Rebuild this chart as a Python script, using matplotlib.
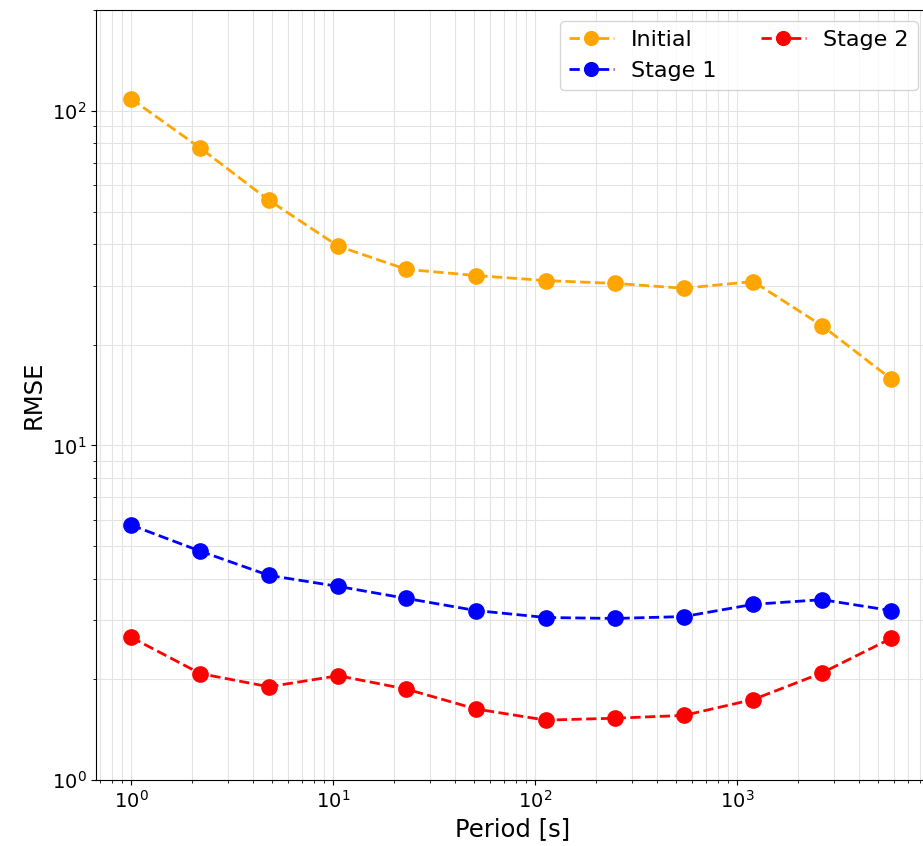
import matplotlib
matplotlib.use("Agg")
import matplotlib.pyplot as plt

periods = [1.0, 2.2, 4.8, 10.6, 23.0, 51.0, 113.0, 248.0, 545.0, 1200.0, 2630.0, 5780.0]
rmse_initial = [108.7, 77.4, 54.1, 39.4, 33.6, 32.2, 31.1, 30.5, 29.5, 30.9, 22.8, 15.8]
rmse_stage1 = [5.78, 4.83, 4.09, 3.79, 3.49, 3.21, 3.06, 3.04, 3.08, 3.35, 3.46, 3.21]
rmse_stage2 = [2.67, 2.08, 1.90, 2.05, 1.87, 1.63, 1.51, 1.53, 1.56, 1.74, 2.09, 2.65]

fig = plt.figure(figsize=(9.23, 8.46), dpi=100)
ax = fig.add_axes([0.104, 0.078, 0.9025, 0.910])

style = dict(linestyle="--", marker="o", markersize=11, linewidth=2)
ax.plot(periods, rmse_initial, color="orange", label="Initial", **style)
ax.plot(periods, rmse_stage1, color="blue", label="Stage 1", **style)
ax.plot(periods, rmse_stage2, color="red", label="Stage 2", **style)

ax.set_xscale("log")
ax.set_yscale("log")
ax.set_xlim(0.67, 8900)
ax.set_ylim(1, 200)
ax.grid(True, which="both", color="#e3e3e3", linewidth=0.8)
ax.tick_params(labelsize=14)
ax.set_xlabel("Period [s]", fontsize=17.5)
ax.set_ylabel("RMSE", fontsize=17.5)
ax.legend(loc="upper right", ncol=2, fontsize=16, markerscale=0.9)

fig.savefig("out.png", dpi=100)
